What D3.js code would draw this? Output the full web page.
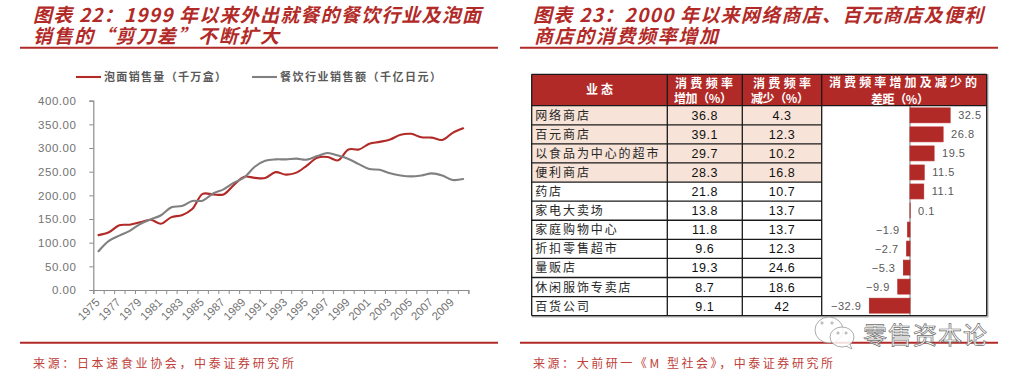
<!DOCTYPE html>
<html>
<head>
<meta charset="utf-8">
<script src="https://cdn.jsdelivr.net/npm/d3@7"></script>
<style>
  html, body { margin: 0; padding: 0; background: #fff; }
  svg { display: block; }
  text { font-family: "Noto Sans CJK SC", sans-serif; }
  .num { font-family: "Liberation Sans", sans-serif; }
</style>
</head>
<body>
<svg id="page"></svg>
<script>
const years = d3.range(1975, 2011).map(String);
const yTicks = [0, 50, 100, 150, 200, 250, 300, 350, 400];
const noodleSales = [116, 122, 137, 138, 143, 148.5, 140, 154, 158, 171, 203, 202, 202, 222, 239.5, 237, 236.6, 249, 243.7, 248, 263, 279.6, 281, 274, 297, 297, 309, 313, 318, 328, 330, 322.6, 322, 317, 332, 341.6];
const diningSales = [82, 104, 115, 125, 139.5, 149, 158, 175, 177.5, 188, 188.7, 204, 212.7, 226.7, 238, 260.5, 273, 276, 276, 277.5, 275.5, 283, 289.5, 284, 276.8, 266, 255.6, 254, 246.5, 242, 240, 242, 246.5, 242, 232.4, 234.5];

const formats = ['网络商店', '百元商店', '以食品为中心的超市', '便利商店', '药店', '家电大卖场', '家庭购物中心', '折扣零售超市', '量贩店', '休闲服饰专卖店', '百货公司'];
const increase = [36.8, 39.1, 29.7, 28.3, 21.8, 13.8, 11.8, 9.6, 19.3, 8.7, 9.1];
const decrease = [4.3, 12.3, 10.2, 16.8, 10.7, 13.7, 13.7, 12.3, 24.6, 18.6, 42];
const gap = [32.5, 26.8, 19.5, 11.5, 11.1, 0.1, -1.9, -2.7, -5.3, -9.9, -32.9];

const red = '#b22a27';
const grey = '#808080';
const width = 1019;
const height = 378;

const svg = d3.select('svg#page')
  .attr('width', width)
  .attr('height', height);

// headings, rules and sources of both panels
const fitText = (x, y, str, len, size) => svg.append('text')
  .attr('x', x)
  .attr('y', y)
  .attr('textLength', len)
  .attr('lengthAdjust', 'spacing')
  .attr('font-size', size)
  .text(str);

const heading = (x, y, str, len) => fitText(x, y, str, len, 19)
  .attr('fill', red)
  .attr('font-weight', 700)
  .attr('font-style', 'italic');

heading(33, 22, '图表 22\uFF1A1999 年以来外出就餐的餐饮行业及泡面', 448);
heading(33, 43, '销售的\u201C剪刀差\u201D不断扩大', 246);
heading(533, 22, '图表 23\uFF1A2000 年以来网络商店、百元商店及便利', 450);
heading(534, 43, '商店的消费频率增加', 184);

[[20, 498], [520, 998]].forEach(([x1, x2]) => {
  [47.7, 342.7].forEach((y) => {
    svg.append('line')
      .attr('x1', x1)
      .attr('x2', x2)
      .attr('y1', y)
      .attr('y2', y)
      .attr('stroke', red)
      .attr('stroke-width', 2);
  });
});

fitText(33, 368, '来源\uFF1A日本速食业协会\uFF0C中泰证券研究所', 261, 12).attr('fill', '#c0403a');
fitText(533, 368, '来源\uFF1A大前研一《M 型社会》\uFF0C中泰证券研究所', 300, 12).attr('fill', '#c0403a');

// line chart
const plot = { left: 93.3, right: 468.3, top: 100.7, bottom: 290 };

const x = d3.scaleBand()
  .domain(years)
  .range([plot.left, plot.right]);

const xEdges = d3.scaleLinear()
  .domain([0, years.length])
  .range([plot.left, plot.right]);

const y = d3.scaleLinear()
  .domain([0, 400])
  .range([plot.bottom, plot.top]);

const styleAxis = (g) => {
  g.selectAll('.domain').attr('stroke', '#8c8c8c').attr('stroke-width', 1.2);
  g.selectAll('.tick line').attr('stroke', '#8c8c8c').attr('stroke-width', 1);
  g.selectAll('.tick text').attr('class', 'num').attr('fill', '#737373');
};

svg.append('g')
  .attr('transform', `translate(${plot.left},0)`)
  .call(d3.axisLeft(y).tickValues(yTicks).tickSize(4).tickPadding(13)
    .tickFormat((d) => d3.format('.2f')(d)))
  .call(styleAxis)
  .selectAll('text')
  .attr('font-size', 11.5)
  .attr('letter-spacing', 0.5);

svg.append('g')
  .attr('transform', `translate(0,${plot.bottom})`)
  .call(d3.axisBottom(xEdges).tickValues(d3.range(years.length + 1)).tickSize(4).tickFormat(''))
  .call(styleAxis);

svg.append('g')
  .attr('transform', `translate(0,${plot.bottom})`)
  .call(d3.axisBottom(x).tickValues(years.filter((d, i) => i % 2 === 0)).tickSize(0))
  .call((g) => g.select('.domain').remove())
  .call(styleAxis)
  .selectAll('text')
  .attr('font-size', 11.5)
  .attr('y', 0)
  .attr('dy', 0)
  .attr('text-anchor', 'end')
  .attr('transform', 'translate(2,13) rotate(-45)');

const line = d3.line()
  .x((d, i) => x(years[i]) + x.bandwidth() / 2)
  .y((d) => y(d))
  .curve(d3.curveCatmullRom.alpha(0.5));

[[noodleSales, red], [diningSales, grey]].forEach(([values, color]) => {
  svg.append('path')
    .attr('d', line(values))
    .attr('fill', 'none')
    .attr('stroke', color)
    .attr('stroke-width', 2.1)
    .attr('stroke-linejoin', 'round')
    .attr('stroke-linecap', 'round');
});

// legend
[
  { x1: 76, x2: 101, color: red, label: '泡面销售量\uFF08千万盒\uFF09', len: 122 },
  { x1: 252, x2: 277, color: grey, label: '餐饮行业销售额\uFF08千亿日元\uFF09', len: 161 },
].forEach((d) => {
  svg.append('line')
    .attr('x1', d.x1)
    .attr('x2', d.x2)
    .attr('y1', 77)
    .attr('y2', 77)
    .attr('stroke', d.color)
    .attr('stroke-width', 2.1);
  fitText(d.x2 + 3, 81, d.label, d.len, 11)
    .attr('fill', '#595959')
    .attr('font-weight', 700);
});

// table
const table = { left: 531.7, col1: 667.3, col2: 742.3, col3: 821.7, right: 986.7, top: 74.3, head: 105.7, bottom: 315.7 };

const row = d3.scaleBand()
  .domain(formats)
  .range([table.head, table.bottom]);

// soft shadow on the right and bottom edge
svg.append('path')
  .attr('d', `M${table.right + 1.2},${table.top}V${table.bottom + 1.2}H${table.left}`)
  .attr('fill', 'none')
  .attr('stroke', '#b0b0b0')
  .attr('stroke-width', 1.2);

svg.append('rect')
  .attr('x', table.left)
  .attr('y', table.top)
  .attr('width', table.right - table.left)
  .attr('height', table.head - table.top)
  .attr('fill', red);

svg.append('g')
  .selectAll('rect')
  .data(formats.slice(0, 4))
  .join('rect')
  .attr('x', table.left)
  .attr('y', (d) => row(d))
  .attr('width', table.col3 - table.left)
  .attr('height', row.bandwidth())
  .attr('fill', '#f7e3d7');

const rowText = svg.append('g');

rowText.selectAll('text.name')
  .data(formats)
  .join('text')
  .attr('class', 'name')
  .attr('x', table.left + 3.5)
  .attr('y', (d) => row(d) + row.bandwidth() / 2 + 4.5)
  .attr('font-size', 12)
  .attr('letter-spacing', 1.9)
  .attr('fill', '#262626')
  .text((d) => d);

[[increase, (table.col1 + table.col2) / 2], [decrease, (table.col2 + table.col3) / 2]].forEach(([values, cx]) => {
  rowText.append('g')
    .selectAll('text')
    .data(values)
    .join('text')
    .attr('class', 'num')
    .attr('x', cx)
    .attr('y', (d, i) => row(formats[i]) + row.bandwidth() / 2 + 4.5)
    .attr('text-anchor', 'middle')
    .attr('font-size', 12.5)
    .attr('letter-spacing', 0.6)
    .attr('fill', '#111')
    .text((d) => d);
});

const headerText = [
  { x: (table.left + table.col1) / 2, y: 94, str: '业态', len: 27 },
  { x: 704, y: 88, str: '消费频率', len: 58 },
  { x: 703, y: 103, str: '增加\uFF08%\uFF09', len: 58 },
  { x: 782, y: 88, str: '消费频率', len: 58 },
  { x: 780, y: 103, str: '减少\uFF08%\uFF09', len: 58 },
  { x: 903, y: 87, str: '消费频率增加及减少的', len: 148 },
  { x: 900, y: 104, str: '差距\uFF08%\uFF09', len: 58 },
];

headerText.forEach((d) => {
  fitText(d.x - d.len / 2, d.y, d.str, d.len, 12)
    .attr('fill', '#fff')
    .attr('font-weight', 700);
});

// diverging bars in the last column
const barX = d3.scaleLinear()
  .domain([-40, 40])
  .range([860.6, 959.4]);

const barY = d3.scaleBand()
  .domain(formats)
  .range([106, 315])
  .paddingInner(0.22)
  .paddingOuter(0.1);

svg.append('line')
  .attr('x1', barX(0))
  .attr('x2', barX(0))
  .attr('y1', table.head)
  .attr('y2', table.bottom)
  .attr('stroke', '#a6a6a6')
  .attr('stroke-width', 1.5);

svg.append('g')
  .selectAll('rect')
  .data(gap)
  .join('rect')
  .attr('x', (d) => Math.min(barX(0), barX(d)))
  .attr('y', (d, i) => barY(formats[i]))
  .attr('width', (d) => Math.abs(barX(d) - barX(0)))
  .attr('height', barY.bandwidth())
  .attr('fill', red)
  .attr('stroke', red)
  .attr('stroke-width', 0.8);

svg.append('g')
  .selectAll('text')
  .data(gap)
  .join('text')
  .attr('class', 'num')
  .attr('x', (d) => barX(d) + (d < 0 ? -8 : 8))
  .attr('y', (d, i) => barY(formats[i]) + barY.bandwidth() / 2 + 4)
  .attr('text-anchor', (d) => (d < 0 ? 'end' : 'start'))
  .attr('font-size', 11)
  .attr('letter-spacing', 0.5)
  .attr('fill', '#595959')
  .text((d) => String(d).replace('-', '\u2212'));

// table rules
const hRules = [table.top, table.head, ...formats.slice(1).map((d) => row(d)), table.bottom];
svg.append('g')
  .selectAll('line')
  .data(hRules)
  .join('line')
  .attr('x1', table.left)
  .attr('x2', (d) => (d === table.top || d === table.head || d === table.bottom ? table.right : table.col3))
  .attr('y1', (d) => d)
  .attr('y2', (d) => d)
  .attr('stroke', '#1a1a1a')
  .attr('stroke-width', 1.3);

svg.append('g')
  .selectAll('line')
  .data([table.left, table.col1, table.col2, table.col3, table.right])
  .join('line')
  .attr('x1', (d) => d)
  .attr('x2', (d) => d)
  .attr('y1', table.top)
  .attr('y2', table.bottom)
  .attr('stroke', '#1a1a1a')
  .attr('stroke-width', 1.3);

// watermark
const mark = svg.append('g')
  .attr('fill', '#fff')
  .attr('fill-opacity', 0.85)
  .attr('stroke', '#8a8a8a')
  .attr('stroke-width', 0.7);

mark.append('ellipse').attr('cx', 829).attr('cy', 330).attr('rx', 14).attr('ry', 13);
mark.append('ellipse').attr('cx', 842).attr('cy', 337).attr('rx', 12).attr('ry', 10);
mark.append('path').attr('d', 'M846,346L852,349L850,344');
[[822, 323], [832, 323], [838, 333], [846, 333]].forEach(([cx, cy]) => {
  mark.append('circle').attr('cx', cx).attr('cy', cy).attr('r', 1.1);
});

fitText(863, 344, '零售资本论', 124, 24)
  .attr('fill', '#fff')
  .attr('stroke', '#6e6e6e')
  .attr('stroke-width', 0.7);
</script>
</body>
</html>
